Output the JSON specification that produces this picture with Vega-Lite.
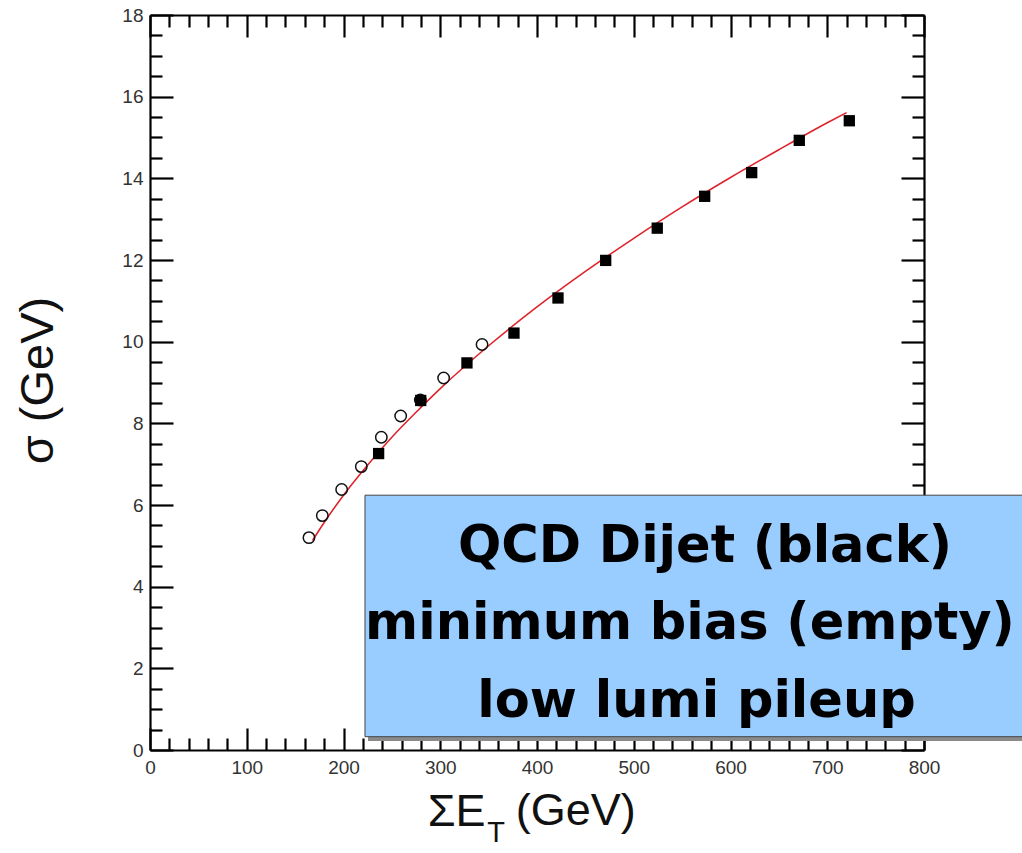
{
  "$schema": "https://vega.github.io/schema/vega-lite/v6.json",
  "autosize": {"type": "none"},
  "padding": {"left": 150, "top": 15, "right": 98, "bottom": 103},
  "width": 774,
  "height": 735,
  "background": "white",
  "config": {
    "view": {"stroke": null},
    "axis": {"grid": false, "labelFont": "Liberation Sans", "titleFont": "Liberation Sans", "tickColor": "black", "domainColor": "black"}
  },
  "data": {"values": [{"note": "annotation"}]},
  "datasets": {
    "fit": [
      {"et": 168, "sigma": 5.13}, {"et": 180, "sigma": 5.57}, {"et": 200, "sigma": 6.24},
      {"et": 225, "sigma": 6.98}, {"et": 250, "sigma": 7.66}, {"et": 275, "sigma": 8.27},
      {"et": 300, "sigma": 8.85}, {"et": 350, "sigma": 9.90}, {"et": 400, "sigma": 10.85},
      {"et": 450, "sigma": 11.72}, {"et": 500, "sigma": 12.53}, {"et": 550, "sigma": 13.30},
      {"et": 600, "sigma": 14.02}, {"et": 650, "sigma": 14.70}, {"et": 700, "sigma": 15.36},
      {"et": 720, "sigma": 15.61}
    ],
    "minbias": [
      {"et": 164.3, "sigma": 5.20}, {"et": 178.1, "sigma": 5.74}, {"et": 198.1, "sigma": 6.38},
      {"et": 218.4, "sigma": 6.94}, {"et": 239.1, "sigma": 7.66}, {"et": 259.1, "sigma": 8.18},
      {"et": 279.4, "sigma": 8.57}, {"et": 303.5, "sigma": 9.11}, {"et": 343.2, "sigma": 9.93}
    ],
    "qcd": [
      {"et": 236.3, "sigma": 7.26}, {"et": 279.8, "sigma": 8.56}, {"et": 327.6, "sigma": 9.48},
      {"et": 376.2, "sigma": 10.21}, {"et": 421.7, "sigma": 11.07}, {"et": 471.0, "sigma": 11.99},
      {"et": 524.3, "sigma": 12.78}, {"et": 573.3, "sigma": 13.56}, {"et": 621.9, "sigma": 14.14},
      {"et": 671.1, "sigma": 14.93}, {"et": 722.8, "sigma": 15.41}
    ]
  },
  "resolve": {"axis": {"x": "independent", "y": "independent"}},
  "layer": [
    {
      "data": {"name": "fit"},
      "mark": {"type": "line", "color": "#e0242c", "strokeWidth": 1.6, "interpolate": "monotone"},
      "encoding": {
        "x": {"field": "et", "type": "quantitative", "scale": {"domain": [0, 800], "nice": false},
          "axis": {"orient": "bottom", "values": [0, 100, 200, 300, 400, 500, 600, 700, 800], "tickSize": -22, "tickWidth": 2.2, "domain": true, "domainWidth": 2.2,
            "labelFontSize": 19, "labelColor": "#333333", "labelPadding": 30, "labelFlush": false, "labelOverlap": false, "format": "d",
            "title": "ΣE", "titleFontSize": 45, "titleFontWeight": "normal", "titleColor": "#111111", "titleX": 335, "titleY": 75, "titleAlign": "right", "titleBaseline": "alphabetic", "titleAnchor": null}},
        "y": {"field": "sigma", "type": "quantitative", "scale": {"domain": [0, 18], "nice": false},
          "axis": {"orient": "left", "values": [0, 2, 4, 6, 8, 10, 12, 14, 16, 18], "tickSize": -23, "tickWidth": 2.2, "domain": true, "domainWidth": 2.2,
            "labelFontSize": 19, "labelColor": "#333333", "labelPadding": 30, "labelFlush": false, "labelOverlap": false, "format": "d",
            "title": "σ (GeV)", "titleFontSize": 47, "titleFontWeight": "normal", "titleColor": "#111111", "titleX": -112, "titleY": 365, "titleAngle": -90, "titleAlign": "center", "titleBaseline": "middle", "titleAnchor": null}}
      }
    },
    {
      "data": {"name": "minbias"},
      "mark": {"type": "point", "shape": "circle", "filled": false, "stroke": "#111111", "strokeWidth": 1.5, "size": 130, "opacity": 1},
      "encoding": {
        "x": {"field": "et", "type": "quantitative",
          "axis": {"orient": "bottom", "values": [20, 40, 60, 80, 120, 140, 160, 180, 220, 240, 260, 280, 320, 340, 360, 380, 420, 440, 460, 480, 520, 540, 560, 580, 620, 640, 660, 680, 720, 740, 760, 780], "tickSize": -12, "tickWidth": 2.2, "domain": false, "labels": false, "title": null}},
        "y": {"field": "sigma", "type": "quantitative",
          "axis": {"orient": "left", "values": [0.5, 1, 1.5, 2.5, 3, 3.5, 4.5, 5, 5.5, 6.5, 7, 7.5, 8.5, 9, 9.5, 10.5, 11, 11.5, 12.5, 13, 13.5, 14.5, 15, 15.5, 16.5, 17, 17.5], "tickSize": -12, "tickWidth": 2.2, "domain": false, "labels": false, "title": null}}
      }
    },
    {
      "data": {"name": "qcd"},
      "mark": {"type": "point", "shape": "square", "filled": true, "color": "black", "size": 128, "opacity": 1},
      "encoding": {
        "x": {"field": "et", "type": "quantitative",
          "axis": {"orient": "top", "values": [0, 100, 200, 300, 400, 500, 600, 700, 800], "tickSize": -22, "tickWidth": 2.2, "domain": true, "domainWidth": 2.2, "labels": false, "title": null}},
        "y": {"field": "sigma", "type": "quantitative",
          "axis": {"orient": "right", "values": [0, 2, 4, 6, 8, 10, 12, 14, 16, 18], "tickSize": -23, "tickWidth": 2.2, "domain": true, "domainWidth": 2.2, "labels": false, "title": null}}
      }
    },
    {
      "mark": {"type": "rect", "color": "#8a8a8a"},
      "encoding": {
        "x": {"datum": 225.3, "type": "quantitative",
          "axis": {"orient": "top", "values": [20, 40, 60, 80, 120, 140, 160, 180, 220, 240, 260, 280, 320, 340, 360, 380, 420, 440, 460, 480, 520, 540, 560, 580, 620, 640, 660, 680, 720, 740, 760, 780], "tickSize": -12, "tickWidth": 2.2, "domain": false, "labels": false, "title": null}},
        "x2": {"datum": 920},
        "y": {"datum": 6.15, "type": "quantitative",
          "axis": {"orient": "right", "values": [0.5, 1, 1.5, 2.5, 3, 3.5, 4.5, 5, 5.5, 6.5, 7, 7.5, 8.5, 9, 9.5, 10.5, 11, 11.5, 12.5, 13, 13.5, 14.5, 15, 15.5, 16.5, 17, 17.5], "tickSize": -12, "tickWidth": 2.2, "domain": false, "labels": false, "title": null}},
        "y2": {"datum": 0.22}
      }
    },
    {
      "mark": {"type": "rect", "color": "#99ccff", "stroke": "#444444", "strokeWidth": 1},
      "encoding": {
        "x": {"datum": 222.2, "type": "quantitative", "axis": null},
        "x2": {"datum": 917},
        "y": {"datum": 6.24, "type": "quantitative", "axis": null},
        "y2": {"datum": 0.326}
      }
    },
    {
      "mark": {"type": "text", "text": "QCD Dijet (black)", "font": "DejaVu Sans", "fontWeight": "bold", "fontSize": 51, "color": "black", "align": "center", "baseline": "alphabetic"},
      "encoding": {
        "x": {"datum": 573.6, "type": "quantitative", "axis": null},
        "y": {"datum": 4.60, "type": "quantitative", "axis": null}
      }
    },
    {
      "mark": {"type": "text", "text": "minimum bias (empty)", "font": "DejaVu Sans", "fontWeight": "bold", "fontSize": 51, "color": "black", "align": "center", "baseline": "alphabetic"},
      "encoding": {
        "x": {"datum": 558.1, "type": "quantitative", "axis": null},
        "y": {"datum": 2.72, "type": "quantitative", "axis": null}
      }
    },
    {
      "mark": {"type": "text", "text": "low lumi pileup", "font": "DejaVu Sans", "fontWeight": "bold", "fontSize": 51, "color": "black", "align": "center", "baseline": "alphabetic"},
      "encoding": {
        "x": {"datum": 564.9, "type": "quantitative", "axis": null},
        "y": {"datum": 0.81, "type": "quantitative", "axis": null}
      }
    },
    {
      "mark": {"type": "text", "text": "T", "font": "Liberation Sans", "fontSize": 29, "color": "#111111", "align": "left", "baseline": "alphabetic"},
      "encoding": {
        "x": {"datum": 348.5, "type": "quantitative", "axis": null},
        "y": {"datum": -2.25, "type": "quantitative", "axis": null}
      }
    },
    {
      "mark": {"type": "text", "text": "(GeV)", "font": "Liberation Sans", "fontSize": 45, "color": "#111111", "align": "left", "baseline": "alphabetic"},
      "encoding": {
        "x": {"datum": 378, "type": "quantitative", "axis": null},
        "y": {"datum": -1.84, "type": "quantitative", "axis": null}
      }
    }
  ]
}
